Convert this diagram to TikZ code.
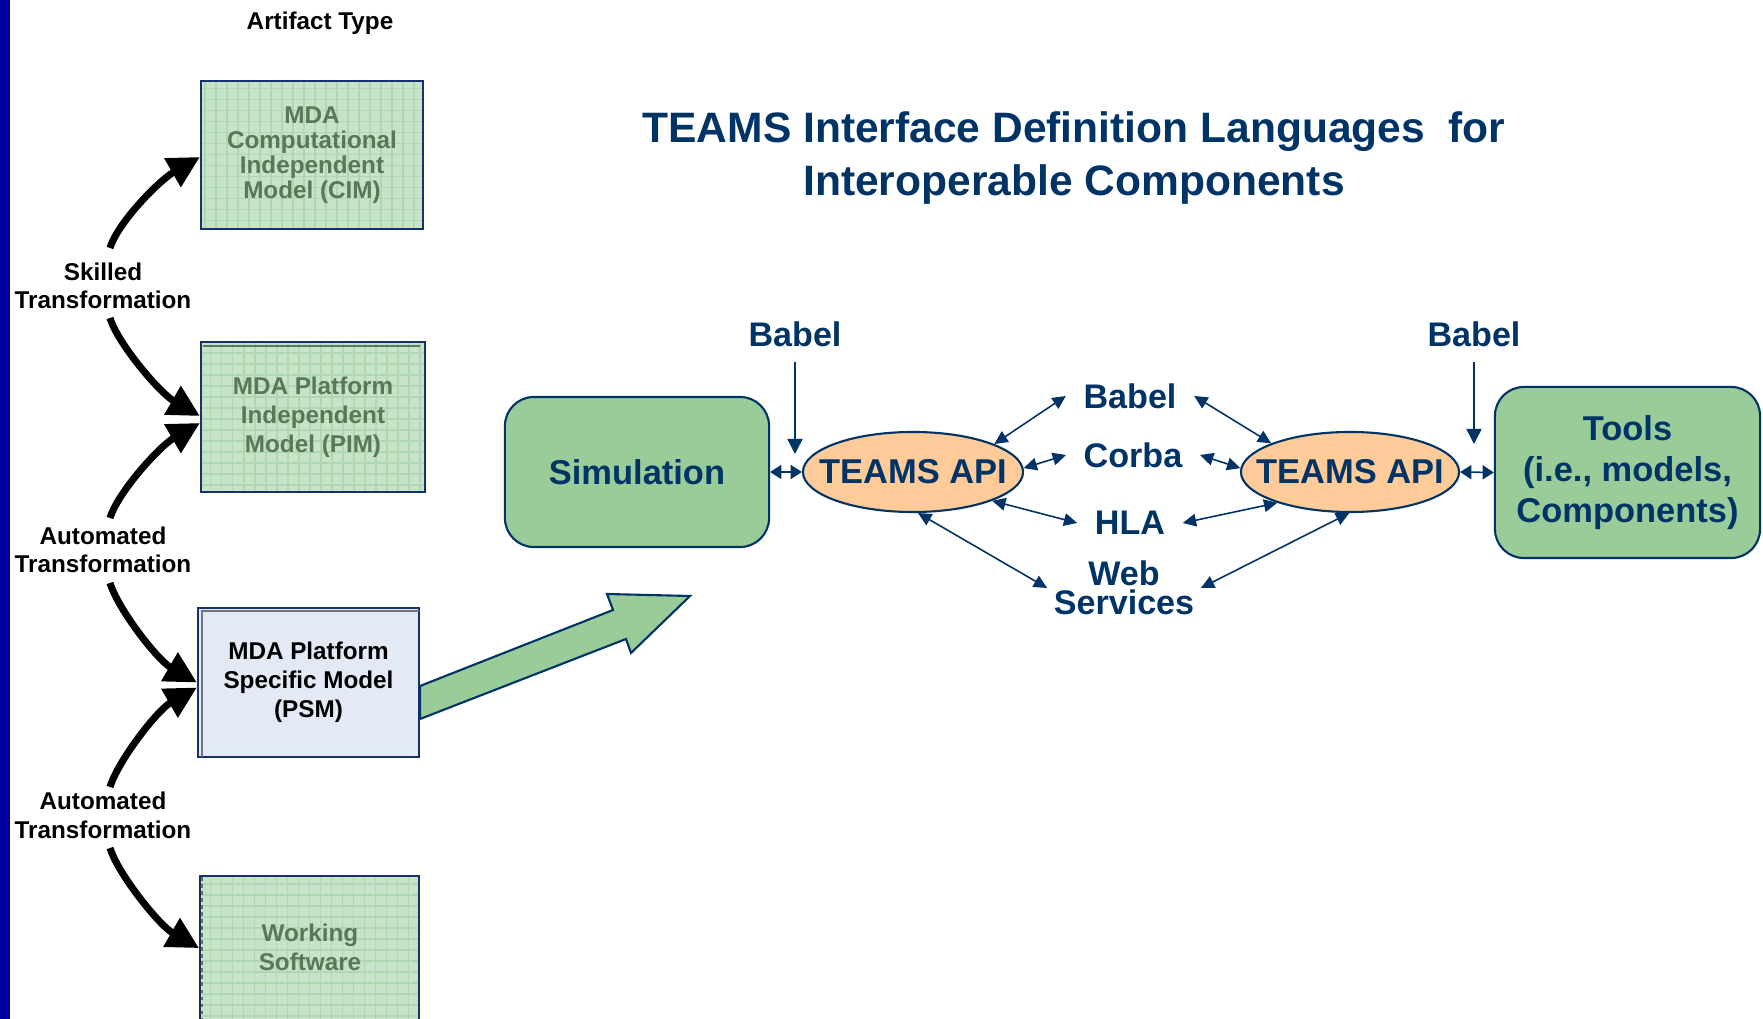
\documentclass[tikz,border=0pt]{standalone}
\usepackage{fontspec}
\setmainfont{Liberation Sans}
\usetikzlibrary{arrows.meta,shapes.geometric,calc}

\definecolor{navy}{RGB}{0,51,102}
\definecolor{boxline}{RGB}{20,50,110}
\definecolor{leafgreen}{RGB}{153,204,153}
\definecolor{peach}{RGB}{255,204,153}
\definecolor{gridfill}{RGB}{200,228,200}
\definecolor{gridline}{RGB}{176,216,176}
\definecolor{fadetext}{RGB}{88,120,88}
\definecolor{psmfill}{RGB}{227,233,245}
\definecolor{sidebar}{RGB}{0,0,160}

\newcommand\fsz[2]{\fontsize{#1}{#2}\selectfont}

\begin{document}
\begin{tikzpicture}[x=0.01cm,y=-0.01cm,
  artifact/.style={draw=boxline, line width=0.6pt, inner sep=0pt, align=center,
    font=\bfseries\fsz{6.9}{8.2}},
  gridbox/.style={artifact, fill=gridfill, text=fadetext,
    path picture={\draw[gridline, line width=0.4pt, step=0.11cm]
      (path picture bounding box.south west) grid (path picture bounding box.north east);}},
  tlabel/.style={align=center, inner sep=0pt, font=\bfseries\fsz{6.9}{8.1}},
  bigarrow/.style={line width=2pt, -{Triangle[length=9pt,width=9pt]}},
  greenbox/.style={draw=navy, fill=leafgreen, line width=0.6pt, rounded corners=0.29cm,
    inner sep=0pt, align=center, text=navy, font=\bfseries\fsz{9.8}{11.7}},
  apinode/.style={ellipse, draw=navy, fill=peach, line width=0.6pt, inner sep=0pt,
    minimum width=2.2cm, minimum height=0.8cm, text=navy, font=\bfseries\fsz{9.8}{11.7}},
  lbl/.style={align=center, text=navy, font=\bfseries\fsz{9.7}{8.3},
    inner xsep=0.17cm, inner ysep=0pt},
  link/.style={draw=navy, line width=0.45pt,
    {Triangle[length=3.8pt,width=3.6pt]}-{Triangle[length=3.8pt,width=3.6pt]}},
  shortlink/.style={draw=navy, line width=0.45pt,
    {Triangle[length=3.2pt,width=4pt]}-{Triangle[length=3.2pt,width=4pt]}},
  downlink/.style={draw=navy, line width=0.45pt, -{Triangle[length=4.3pt,width=4.3pt]}}
]
\useasboundingbox (0,0) rectangle (1763,1019);
\fill[white] (0,0) rectangle (1763,1019);
\fill[sidebar] (0,0) rectangle (10,1019);

% ---- MDA artifact column ----
\node[font=\bfseries\fsz{6.9}{8.2}] (arttype) at (320,23) {Artifact Type};

\node[gridbox, minimum width=2.22cm, minimum height=1.48cm, font=\bfseries\fsz{6.9}{7.1}]
  (cim) at (312,155) {MDA\\Computational\\Independent\\Model (CIM)};
\node[gridbox, minimum width=2.24cm, minimum height=1.50cm]
  (pim) at (313,417) {MDA Platform\\Independent\\Model (PIM)};
\draw[fadetext, line width=0.6pt] ($(pim.north west)+(3,5)$) -- ($(pim.north east)+(-6,5)$);

\node[artifact, fill=psmfill, minimum width=2.21cm, minimum height=1.49cm]
  (psm) at (308.5,682.5) {MDA Platform\\Specific Model\\(PSM)};
\draw[black!55, line width=0.5pt] ($(psm.south west)+(5,-1)$) -- ($(psm.north west)+(5,4)$)
  -- ($(psm.north east)+(-1,4)$);

\node[gridbox, minimum width=2.19cm, minimum height=1.7cm, anchor=north west]
  (work) at (199,875) {};
\draw[fadetext, line width=0.5pt, dash pattern=on 1pt off 1pt]
  ($(work.north west)+(3,2)$) -- ($(work.south west)+(3,0)$);
\node[tlabel, text=fadetext, font=\bfseries\fsz{6.9}{8.2}] (worktext) at (310,947) {Working\\Software};

% ---- transformation labels and arrows ----
\node[tlabel] (skill) at (103,286) {Skilled\\Transformation};
\node[tlabel] (auto1) at (103,550) {Automated\\Transformation};
\node[tlabel] (auto2) at (103,815.5) {Automated\\Transformation};

\draw[bigarrow] ($(skill.center)+(7,-38)$) .. controls +(8,-26) and +(-40,23) .. ([yshift=-0.02cm]cim.west);
\draw[bigarrow] ($(skill.center)+(7,32)$) .. controls +(8,26) and +(-40,-23) .. ([yshift=0.01cm]pim.west);
\draw[bigarrow] ($(auto1.center)+(7,-32)$) .. controls +(8,-26) and +(-40,23) .. ([yshift=-0.06cm]pim.west);
\draw[bigarrow] ($(auto1.center)+(7,33)$) .. controls +(8,26) and +(-40,-23) .. (psm.west);
\draw[bigarrow] ($(auto2.center)+(7,-28.5)$) .. controls +(8,-26) and +(-40,23) .. ([yshift=-0.05cm]psm.west);
\draw[bigarrow] ($(auto2.center)+(7,32.5)$) .. controls +(8,26) and +(-40,-23) .. ([yshift=0.13cm]work.west);

% ---- block arrow from the PSM ----
\draw[fill=leafgreen, draw=navy, line width=0.6pt, line join=miter]
  (420,686) -- (613,610) -- (607,594) -- (690,596) -- (631,653) -- (626,639) -- (420,719) -- cycle;

% ---- title ----
\node[align=center, text=navy, font=\bfseries\fsz{12.1}{15.1}] (title) at (1074,158)
  {TEAMS Interface Definition Languages\ \ for\\Interoperable Components};

% ---- interoperability diagram ----
\node[greenbox, minimum width=2.64cm, minimum height=1.5cm] (sim) at (637,472) {Simulation};
\node[apinode] (apiL) at (913,472) {\makebox[0pt]{TEAMS API}};
\node[apinode, minimum width=2.18cm] (apiR) at (1350,472) {\makebox[0pt]{TEAMS API}};
\node[greenbox, minimum width=2.65cm, minimum height=1.71cm] (tools) at (1627.5,472.5)
  {Tools\\(i.e., models,\\Components)};

\node[lbl, inner sep=0pt] (babL) at (795,334) {Babel};
\node[lbl, inner sep=0pt] (babR) at (1474,334) {Babel};
\coordinate (jL) at (795,454);
\coordinate (jR) at (1474,444);
\draw[downlink] ($(babL.center)+(0,28)$) -- (jL);
\draw[downlink] ($(babR.center)+(0,28)$) -- (jR);

\draw[shortlink] (sim.east) -- (apiL.west);
\draw[shortlink] (apiR.east) -- (tools.west);

\node[lbl] (babM) at (1130,396) {Babel};
\node[lbl] (corba) at (1133,455) {Corba};
\node[lbl] (hla) at (1130,523) {HLA};
\node[lbl, inner xsep=0.06cm] (web) at (1124,588) {Web\\Services};

\draw[link] (apiL.19) -- (babM.west);
\draw[link] (apiL.2) -- (corba.west);
\draw[link] (apiL.-20) -- (hla.west);
\draw[link] (apiL.-83) -- (web.west);
\draw[link] (apiR.160) -- (babM.east);
\draw[link] (apiR.178) -- (corba.east);
\draw[link] (apiR.-157) -- (hla.east);
\draw[link] (apiR.-91) -- (web.east);
\end{tikzpicture}
\end{document}
